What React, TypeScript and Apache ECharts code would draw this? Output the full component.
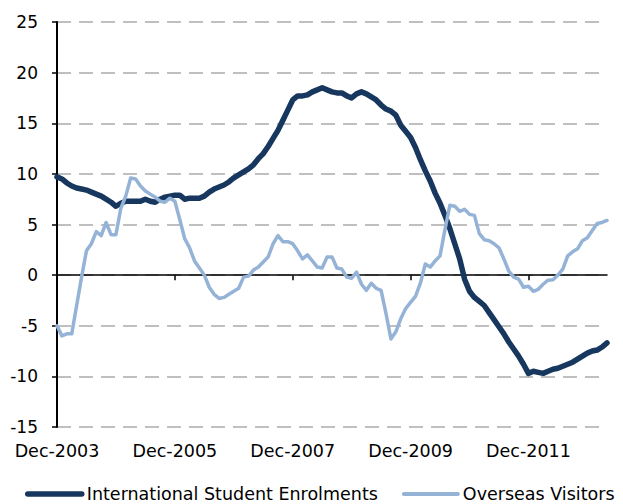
import React, { useEffect, useRef } from "react";
import * as echarts from "echarts";

const monthNames = ["Jan", "Feb", "Mar", "Apr", "May", "Jun", "Jul", "Aug", "Sep", "Oct", "Nov", "Dec"];
const startYear = 2003;
const startMonth = 11; // Dec
const pointCount = 113;
const categories: string[] = [];
for (let k = 0; k < pointCount; k++) {
  const m = (startMonth + k) % 12;
  const y = startYear + Math.floor((startMonth + k) / 12);
  categories.push(`${monthNames[m]}-${y}`);
}

const seriesNames = ["International Student Enrolments", "Overseas Visitors"];

const studentEnrolments = [
  9.7, 9.5, 9.1, 8.8, 8.6, 8.5, 8.4, 8.2, 8.0, 7.8,
  7.5, 7.2, 6.8, 7.1, 7.3, 7.3, 7.3, 7.3, 7.5, 7.3,
  7.2, 7.5, 7.7, 7.8, 7.9, 7.9, 7.5, 7.6, 7.6, 7.6,
  7.8, 8.2, 8.5, 8.7, 8.9, 9.2, 9.6, 9.9, 10.2, 10.5,
  10.9, 11.5, 12.0, 12.7, 13.5, 14.3, 15.3, 16.3, 17.3, 17.7,
  17.7, 17.8, 18.1, 18.3, 18.5, 18.3, 18.1, 18.0, 18.0, 17.7,
  17.5, 17.9, 18.1, 17.9, 17.6, 17.3, 16.8, 16.4, 16.2, 15.8,
  14.8, 14.2, 13.6, 12.6, 11.4, 10.3, 9.3, 8.1, 7.1, 5.9,
  4.6, 3.1, 1.6, -0.4, -1.6, -2.2, -2.6, -3.0, -3.7, -4.4,
  -5.1, -5.8, -6.6, -7.3, -8.0, -8.8, -9.7, -9.5, -9.6, -9.7,
  -9.5, -9.3, -9.2, -9.0, -8.8, -8.6, -8.3, -8.0, -7.7, -7.5,
  -7.4, -7.1, -6.7,
];

const overseasVisitors = [
  -5.0, -6.0, -5.8, -5.8, -3.0, -0.2, 2.4, 3.1, 4.3, 3.9,
  5.2, 4.0, 4.0, 6.6, 7.8, 9.6, 9.5, 8.8, 8.3, 8.0,
  7.7, 7.3, 7.2, 7.6, 7.3, 5.5, 3.6, 2.7, 1.4, 0.7,
  0.0, -1.2, -1.9, -2.3, -2.2, -1.9, -1.6, -1.3, -0.2, -0.1,
  0.5, 0.8, 1.3, 1.8, 3.1, 3.9, 3.3, 3.3, 3.1, 2.4,
  1.6, 2.0, 1.4, 0.8, 0.7, 1.8, 1.8, 0.7, 0.6, -0.2,
  -0.3, 0.3, -0.9, -1.5, -0.8, -1.3, -1.5, -3.8, -6.3, -5.6,
  -4.3, -3.3, -2.7, -2.1, -0.8, 1.1, 0.8, 1.4, 1.9, 4.5,
  6.9, 6.8, 6.3, 6.5, 6.0, 5.9, 4.1, 3.5, 3.4, 3.1,
  2.7, 1.6, 0.4, -0.2, -0.4, -1.2, -1.1, -1.6, -1.4, -0.9,
  -0.5, -0.45, 0.0, 0.6, 1.9, 2.3, 2.6, 3.4, 3.7, 4.4,
  5.1, 5.2, 5.4,
];

const yMin = -15;
const yMax = 25;
const yInterval = 5;

const FONT = "DejaVu Sans";
const DARK = "#17375E";
const LIGHT = "#95B3D7";

export default function App() {
  const ref = useRef<HTMLDivElement>(null);
  useEffect(() => {
    if (!ref.current) return;
    const chart = echarts.init(ref.current, undefined, { renderer: "svg" });
    chart.setOption({
      animation: false,
      backgroundColor: "#ffffff",
      textStyle: { fontFamily: FONT },
      grid: { left: 57, right: 16, top: 22, bottom: 77, containLabel: false, outerBoundsMode: "none" },
      legend: {
        left: 25,
        top: 485,
        width: 598,
        padding: 0,
        itemWidth: 54,
        itemHeight: 20,
        itemGap: 24,
        itemStyle: { opacity: 0 },
        textStyle: { fontSize: 17.5, color: "#000", fontFamily: FONT },
        data: [
          { name: seriesNames[0], lineStyle: { width: 5.5, cap: "round" } },
          { name: seriesNames[1], lineStyle: { width: 4, cap: "round" } },
        ],
      },
      xAxis: {
        type: "category",
        data: categories,
        boundaryGap: false,
        axisLine: { onZero: true, lineStyle: { color: "#000", width: 1.5 } },
        axisTick: { show: true, interval: 23, length: 5, lineStyle: { color: "#000", width: 1.5 } },
        axisLabel: { interval: 23, margin: 15, fontSize: 17.5, color: "#000", fontFamily: FONT },
        splitLine: { show: false },
      },
      yAxis: {
        type: "value",
        min: yMin,
        max: yMax,
        interval: yInterval,
        axisLine: { show: true, lineStyle: { color: "#000", width: 2 } },
        axisTick: { show: true, length: 5, lineStyle: { color: "#000", width: 1.5 } },
        axisLabel: { fontSize: 17, color: "#000", margin: 19, fontFamily: FONT },
        splitLine: { show: true, lineStyle: { color: "#BFBFBF", width: 2, type: [14, 8] } },
      },
      series: [
        {
          name: seriesNames[0],
          type: "line",
          data: studentEnrolments,
          symbol: "none",
          lineStyle: { color: DARK, width: 5.5, join: "round", cap: "round" },
          itemStyle: { color: DARK },
        },
        {
          name: seriesNames[1],
          type: "line",
          data: overseasVisitors,
          symbol: "none",
          lineStyle: { color: LIGHT, width: 3.5, join: "round", cap: "round" },
          itemStyle: { color: LIGHT },
        },
      ],
    });
    return () => chart.dispose();
  }, []);
  return <div ref={ref} style={{ width: 623, height: 504, position: "absolute", left: 0, top: 0 }} />;
}
